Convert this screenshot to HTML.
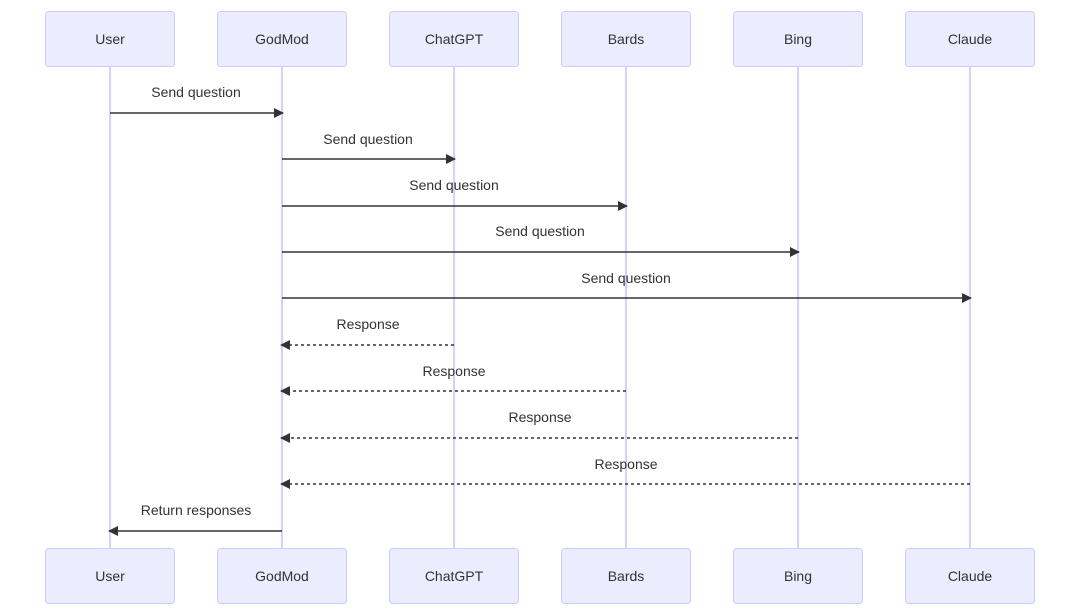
<!DOCTYPE html>
<html><head><style>body{margin:0;background:#fff}svg{display:block}text{font-family:"Liberation Sans",sans-serif;font-size:14px;fill:#333}</style></head>
<body>
<svg width="1080" height="614" viewBox="0 0 1080 614" xmlns="http://www.w3.org/2000/svg">
<defs><marker id="a" viewBox="0 0 10 10" refX="9" refY="5" markerWidth="10" markerHeight="10" markerUnits="userSpaceOnUse" orient="auto"><path d="M0,0 L10,5 L0,10 z" fill="#333"/></marker></defs>
<g stroke="#c4c4f8" stroke-width="1.5">
<line x1="110" y1="66" x2="110" y2="548"/><line x1="282" y1="66" x2="282" y2="548"/><line x1="454" y1="66" x2="454" y2="548"/><line x1="626" y1="66" x2="626" y2="548"/><line x1="798" y1="66" x2="798" y2="548"/><line x1="970" y1="66" x2="970" y2="548"/>
</g>
<g fill="#ececff" stroke="#ccccff" stroke-width="1">
<rect x="45.5" y="11.5" width="129" height="55" rx="3"/><rect x="217.5" y="11.5" width="129" height="55" rx="3"/><rect x="389.5" y="11.5" width="129" height="55" rx="3"/><rect x="561.5" y="11.5" width="129" height="55" rx="3"/><rect x="733.5" y="11.5" width="129" height="55" rx="3"/><rect x="905.5" y="11.5" width="129" height="55" rx="3"/>
<rect x="45.5" y="548.5" width="129" height="55" rx="3"/><rect x="217.5" y="548.5" width="129" height="55" rx="3"/><rect x="389.5" y="548.5" width="129" height="55" rx="3"/><rect x="561.5" y="548.5" width="129" height="55" rx="3"/><rect x="733.5" y="548.5" width="129" height="55" rx="3"/><rect x="905.5" y="548.5" width="129" height="55" rx="3"/>
</g>
<g text-anchor="middle">
<text x="110" y="44">User</text><text x="282" y="44">GodMod</text><text x="454" y="44">ChatGPT</text><text x="626" y="44">Bards</text><text x="798" y="44">Bing</text><text x="970" y="44">Claude</text>
<text x="110" y="581">User</text><text x="282" y="581">GodMod</text><text x="454" y="581">ChatGPT</text><text x="626" y="581">Bards</text><text x="798" y="581">Bing</text><text x="970" y="581">Claude</text>
<text x="196" y="97">Send question</text>
<text x="368" y="144">Send question</text>
<text x="454" y="190">Send question</text>
<text x="540" y="236">Send question</text>
<text x="626" y="283">Send question</text>
<text x="368" y="329">Response</text>
<text x="454" y="376">Response</text>
<text x="540" y="422">Response</text>
<text x="626" y="469">Response</text>
<text x="196" y="515">Return responses</text>
</g>
<g stroke="#333" stroke-width="1.5" marker-end="url(#a)">
<line x1="110" y1="113" x2="283" y2="113"/>
<line x1="282" y1="159" x2="455" y2="159"/>
<line x1="282" y1="206" x2="627" y2="206"/>
<line x1="282" y1="252" x2="799" y2="252"/>
<line x1="282" y1="298" x2="971" y2="298"/>
<line x1="454" y1="345" x2="281" y2="345" stroke-dasharray="3,3"/>
<line x1="626" y1="391" x2="281" y2="391" stroke-dasharray="3,3"/>
<line x1="798" y1="438" x2="281" y2="438" stroke-dasharray="3,3"/>
<line x1="970" y1="484" x2="281" y2="484" stroke-dasharray="3,3"/>
<line x1="282" y1="531" x2="109" y2="531"/>
</g>
</svg>
</body></html>
